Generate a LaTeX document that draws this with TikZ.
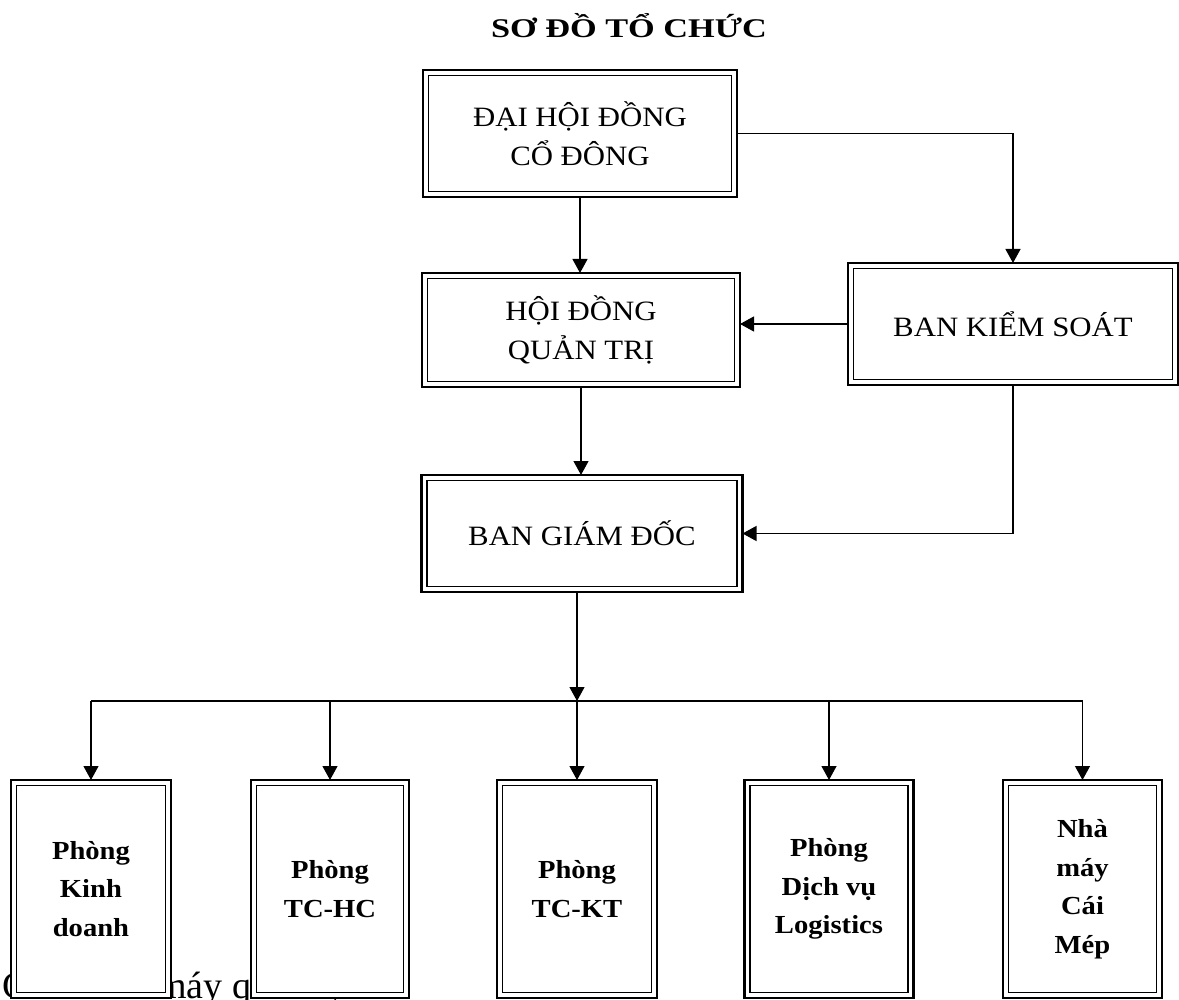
\documentclass[tikz,border=0pt]{standalone}
\usepackage{fontspec}
\setmainfont{Liberation Serif}
\newfontfamily\widefont[FakeStretch=1.1]{Liberation Serif}
\newfontfamily\titlefont[FakeStretch=1.27]{Liberation Serif}
\newfontfamily\deptfont[FakeStretch=1.1]{Liberation Serif}
\usetikzlibrary{arrows.meta}

\begin{document}
\begin{tikzpicture}[x=1pt, y=-1pt,
box/.style = {% outer frame
    draw, line width=2.8pt, fill=white, inner sep=0pt, outer sep=0pt,
            },
top/.style = {% upper boxes
    box, align=center, font=\widefont\fontsize{28}{39}\selectfont,
            },
dept/.style = {% departments
    box, align=center, minimum height=218pt,
    font=\deptfont\bfseries\fontsize{26}{38.5}\selectfont,
            },
arr/.style = {line width=1.2pt, -{Triangle[width=15pt,length=14pt]}},
ln/.style  = {line width=1.2pt},
                    ]

\useasboundingbox (0,0) rectangle (1179,1000);
\clip (0,0) rectangle (1179,1000);

% running text of the page, mostly hidden
\node[anchor=base west, inner sep=0pt, font=\fontsize{38}{40}\selectfont]
  (note) at (2,998) {Cơ\,cấu\,bộ\,máy quản lý};

\node[anchor=base, font=\titlefont\bfseries\fontsize{27}{30}\selectfont]
  (title) at (629,38) {SƠ ĐỒ TỔ CHỨC};

\node[top, minimum width=314, minimum height=127] (dhdcd) at (580,133.5)
  {ĐẠI HỘI ĐỒNG\\CỔ ĐÔNG};
\node[top, minimum width=318, minimum height=114] (hdqt) at (581,330)
  {HỘI ĐỒNG\\QUẢN TRỊ};
\node[top, minimum width=330, minimum height=122] (bks) at (1013,324)
  {BAN KIỂM SOÁT};
\node[top, minimum width=321, minimum height=117] (bgd) at (582,533.5)
  {BAN GIÁM ĐỐC};

\node[dept, minimum width=160] (kd)   at (91,889)     {Phòng\\Kinh\\doanh};
\node[dept, minimum width=158] (tchc) at (330,889)    {Phòng\\TC-HC};
\node[dept, minimum width=160] (tckt) at (577,889)    {Phòng\\TC-KT};
\node[dept, minimum width=169] (dvl)  at (829,889)    {Phòng\\Dịch vụ\\Logistics};
\node[dept, minimum width=159] (cm)   at (1082.5,889) {Nhà\\máy\\Cái\\Mép};

% inner frames
\foreach \n in {dhdcd,hdqt,bks,bgd,kd,tchc,tckt,dvl,cm}
  \draw[line width=1.6pt] ([xshift=5.5pt,yshift=-5.5pt]\n.north west)
    rectangle ([xshift=-5.5pt,yshift=5.5pt]\n.south east);

\draw[arr] (dhdcd.south) -- (dhdcd.south |- hdqt.north);
\draw[arr] (dhdcd.east) -| (bks.north);
\draw[arr] (bks.west) -- (bks.west -| hdqt.east);
\draw[arr] (hdqt.south) -- (hdqt.south |- bgd.north);
\draw[arr] (bks.south) |- (bgd.east);

\coordinate (bus) at (577,701);
\draw[arr] (bgd.south -| bus) -- (bus);
\draw[ln] (bus -| kd.north) -- (bus -| cm.north);
\foreach \n in {kd,tchc,tckt,dvl,cm}
  \draw[arr] (bus -| \n.north) -- (\n.north);

\end{tikzpicture}
\end{document}
